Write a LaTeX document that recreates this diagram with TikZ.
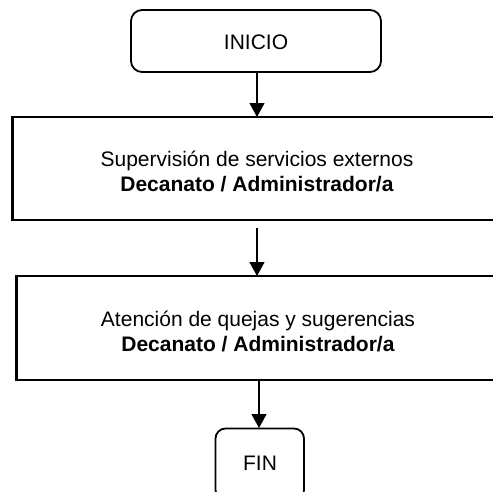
\documentclass[tikz,border=0pt]{standalone}
\usepackage{fontspec}
\setmainfont{Liberation Sans}
\usetikzlibrary{arrows.meta}
\begin{document}
\begin{tikzpicture}[x=1pt,y=-1pt,
  term/.style={draw,line width=1.8pt,rounded corners=11pt,inner sep=0pt},
  proc/.style={draw,line width=2.8pt,inner sep=0pt},
  conn/.style={line width=1.2pt,-{Triangle[width=15pt,length=14pt]}},
  lbl/.style={font=\fontsize{21}{25}\selectfont,align=center,inner sep=0pt}]
\useasboundingbox (0,0) rectangle (493,491);
\begin{scope}
\clip (0,0) rectangle (493,491);
\draw[term] (131,10) rectangle (381,72);
\node[lbl] (inicio) at (256,42) {INICIO};
\coordinate (inicioB) at (257,72);
\draw[proc] (12.5,117) rectangle (520,220);
\node[lbl] (sup) at (257,171) {Supervisión de servicios externos\\\textbf{Decanato / Administrador/a}};
\coordinate (b1T) at (257,117);
\coordinate (a2S) at (257,228);
\coordinate (b2T) at (257,276);
\draw[proc] (16.5,276) rectangle (520,380);
\node[lbl] (ate) at (258,331) {Atención de quejas y sugerencias\\\textbf{Decanato / Administrador/a}};
\coordinate (b2B) at (259,380);
\coordinate (finT) at (259,428);
\draw[term,rounded corners=10pt] (215.5,428.5) rectangle (304,500);
\node[lbl] (fin) at (260,463) {FIN};
\end{scope}
\draw[conn] (inicioB) -- (b1T);
\draw[conn] (a2S) -- (b2T);
\draw[conn] (b2B) -- (finT);
\end{tikzpicture}
\end{document}
